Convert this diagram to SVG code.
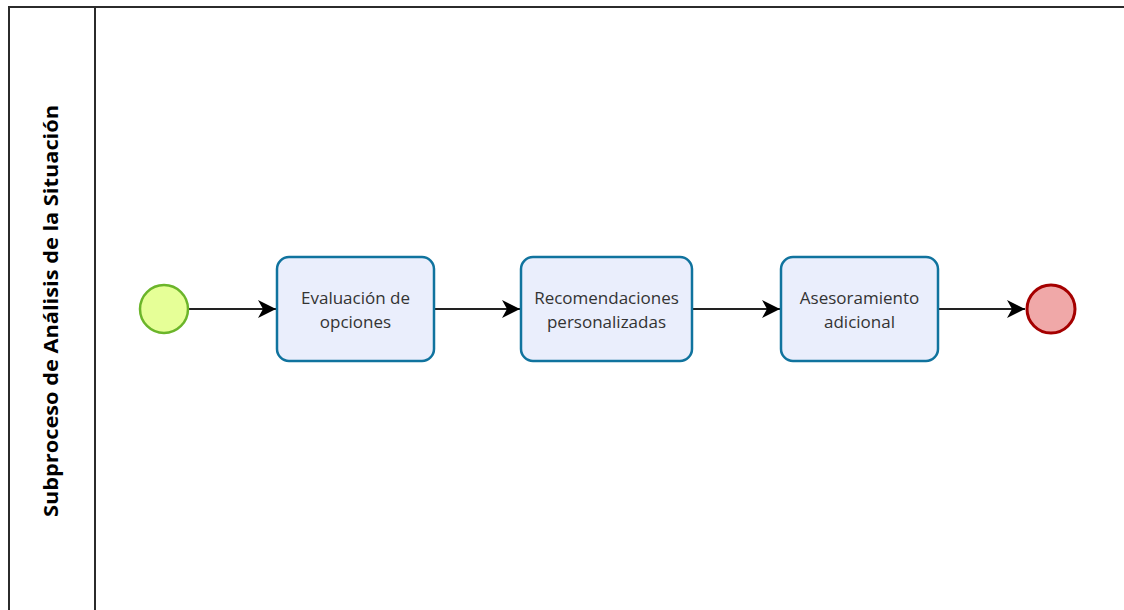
<svg xmlns="http://www.w3.org/2000/svg" width="1124" height="610" viewBox="0 0 1124 610">
  <style>
    .pool { fill: #ffffff; stroke: #2b2b2b; stroke-width: 2; }
    .task { fill: #eaeefc; stroke: #10739e; stroke-width: 2.5; }
    .label { font-family: "Open Sans", "Noto Sans", sans-serif; font-size: 17px; fill: #333333; text-anchor: middle; }
    .lane { font-family: "Open Sans", "Noto Sans", sans-serif; font-size: 19px; font-weight: bold; fill: #000000; text-anchor: middle; }
    .edge { fill: none; stroke: #222222; stroke-width: 2; }
  </style>
  <defs>
    <marker id="arrow" markerWidth="20" markerHeight="20" refX="18" refY="9" orient="auto" markerUnits="userSpaceOnUse">
      <path d="M0,0 L18,9 L0,18 L5,9 Z" fill="#000000"/>
    </marker>
  </defs>
  <rect width="1124" height="610" fill="#ffffff"/>
  <g id="pool">
    <path class="pool" d="M1124,7 L9,7 L9,612 M95,7 L95,612"/>
    <text class="lane" transform="translate(58,311) rotate(-90)" textLength="412" lengthAdjust="spacingAndGlyphs">Subproceso de Análisis de la Situación</text>
  </g>
  <g id="connectors">
    <path class="edge" d="M189,309 L276,309" marker-end="url(#arrow)"/>
    <path class="edge" d="M435,309 L520,309" marker-end="url(#arrow)"/>
    <path class="edge" d="M693,309 L780,309" marker-end="url(#arrow)"/>
    <path class="edge" d="M939,309 L1025,309" marker-end="url(#arrow)"/>
  </g>
  <g id="start">
    <circle cx="164" cy="309" r="24" fill="#e6ff97" stroke="#6bb52a" stroke-width="2.5"/>
  </g>
  <g id="task1">
    <rect class="task" x="277" y="257" width="157" height="104" rx="12"/>
    <text class="label" x="355.5" y="304">Evaluación de</text>
    <text class="label" x="355.5" y="328">opciones</text>
  </g>
  <g id="task2">
    <rect class="task" x="521" y="257" width="171" height="104" rx="12"/>
    <text class="label" x="606.5" y="304">Recomendaciones</text>
    <text class="label" x="606.5" y="328">personalizadas</text>
  </g>
  <g id="task3">
    <rect class="task" x="781" y="257" width="157" height="104" rx="12"/>
    <text class="label" x="859.5" y="304">Asesoramiento</text>
    <text class="label" x="859.5" y="328">adicional</text>
  </g>
  <g id="end">
    <circle cx="1051" cy="309" r="24" fill="#f0a8a8" stroke="#a50000" stroke-width="3"/>
  </g>
</svg>
